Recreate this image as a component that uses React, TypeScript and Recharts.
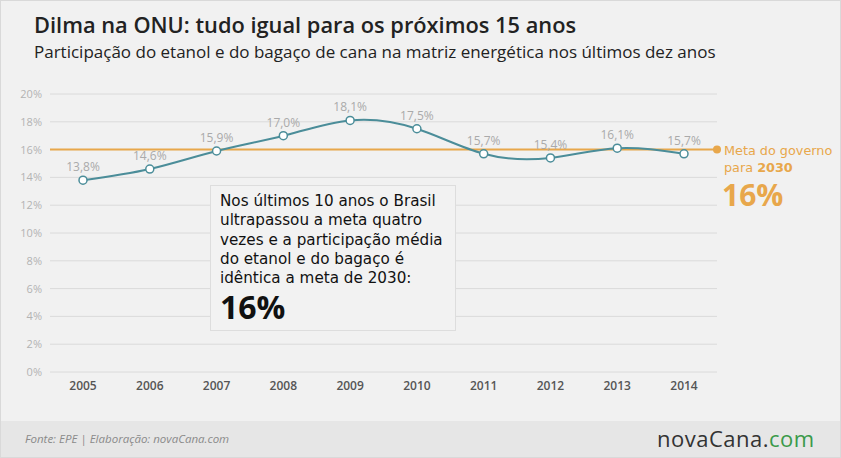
import {
  LineChart,
  Line,
  XAxis,
  YAxis,
  CartesianGrid,
  ReferenceLine,
  LabelList,
} from "recharts";

const years = ["2005", "2006", "2007", "2008", "2009", "2010", "2011", "2012", "2013", "2014"];
const share = [13.8, 14.6, 15.9, 17.0, 18.1, 17.5, 15.7, 15.4, 16.1, 15.7];
const yTicks = [0, 2, 4, 6, 8, 10, 12, 14, 16, 18, 20];
const meta2030 = 16;

const data = years.map((year, i) => ({ year, share: share[i] }));

const FONT = "'Open Sans', sans-serif";
const WIDE = "'DejaVu Sans', sans-serif";
const ORANGE = "#e8a74b";
const TEAL = "#4b8d99";

const pct = (v: number) => v.toFixed(1).replace(".", ",") + "%";

function MetaLabel(props: any) {
  const { viewBox } = props;
  const x = viewBox.x + viewBox.width;
  const y = viewBox.y;
  return (
    <g>
      <circle cx={x} cy={y} r={4} fill={ORANGE} />
      <text x={x + 7} y={y + 5} fill={ORANGE} fontSize={12.8} fontFamily={WIDE}>
        Meta do governo
      </text>
      <text x={x + 7} y={y + 22} fill={ORANGE} fontSize={12.8} fontFamily={WIDE}>
        para <tspan fontWeight={700}>2030</tspan>
      </text>
      <text x={x + 5} y={y + 56} fill={ORANGE} fontSize={30} fontWeight={700} fontFamily={FONT}>
        16%
      </text>
    </g>
  );
}

export default function App() {
  return (
    <div
      style={{
        position: "absolute",
        left: 0,
        top: 0,
        width: 841,
        height: 458,
        background: "#f1f1f1",
        boxSizing: "border-box",
        border: "1px solid #d9d9d9",
        fontFamily: FONT,
        overflow: "hidden",
      }}
    >
      <div style={{ position: "absolute", left: 33, top: 9, fontSize: 21.8, fontWeight: 600, color: "#222" }}>
        Dilma na ONU: tudo igual para os próximos 15 anos
      </div>
      <div style={{ position: "absolute", left: 33, top: 39, fontSize: 17, color: "#222" }}>
        Participação do etanol e do bagaço de cana na matriz energética nos últimos dez anos
      </div>

      <LineChart
        width={841}
        height={420}
        data={data}
        margin={{ top: 93, right: 124, left: 0, bottom: 0 }}
        style={{ position: "absolute", left: -1, top: 0 }}
      >
        <CartesianGrid vertical={false} stroke="#dadada" />
        <XAxis
          dataKey="year"
          axisLine={false}
          tickLine={false}
          height={49}
          tickMargin={3}
          padding={{ left: 33, right: 33 }}
          tick={{ fill: "#555", fontSize: 12, fontFamily: FONT, fontWeight: 600 }}
        />
        <YAxis
          domain={[0, 20]}
          ticks={yTicks}
          width={50}
          axisLine={false}
          tickLine={false}
          tickMargin={2}
          tickFormatter={(v: number) => v + "%"}
          tick={{ fill: "#b3b3b3", fontSize: 11, fontFamily: FONT }}
        />
        <ReferenceLine y={meta2030} stroke={ORANGE} strokeWidth={2} label={<MetaLabel />} />
        <Line
          type="natural"
          dataKey="share"
          stroke={TEAL}
          strokeWidth={2}
          dot={{ r: 4, fill: "#fff", stroke: TEAL, strokeWidth: 1.5 }}
          activeDot={false}
          isAnimationActive={false}
        >
          <LabelList
            dataKey="share"
            position="top"
            offset={9}
            formatter={(v: any) => pct(Number(v))}
            style={{ fill: "#aaa", fontSize: 12, fontFamily: FONT }}
          />
        </Line>
      </LineChart>

      <div
        style={{
          position: "absolute",
          left: 209,
          top: 184,
          width: 246,
          height: 146,
          boxSizing: "border-box",
          border: "1px solid #dddddd",
          background: "#f2f2f2",
          padding: "6px 9px",
          color: "#111",
          fontFamily: WIDE,
          fontSize: 15.2,
          lineHeight: "19.3px",
          whiteSpace: "nowrap",
        }}
      >
        Nos últimos 10 anos o Brasil
        <br />
        ultrapassou a meta quatro
        <br />
        vezes e a participação média
        <br />
        do etanol e do bagaço é
        <br />
        idêntica a meta de 2030:
        <div style={{ fontFamily: FONT, fontSize: 32, fontWeight: 700, lineHeight: "44px", marginTop: -3 }}>
          16%
        </div>
      </div>

      <div
        style={{
          position: "absolute",
          left: 0,
          top: 420,
          width: 841,
          height: 38,
          background: "#e6e6e6",
        }}
      />
      <div
        style={{
          position: "absolute",
          left: 24,
          top: 430,
          fontSize: 11.5,
          fontStyle: "italic",
          color: "#8a8a8a",
        }}
      >
        Fonte: EPE | Elaboração: novaCana.com
      </div>
      <div
        style={{
          position: "absolute",
          left: 656,
          top: 422,
          fontSize: 22,
          color: "#333",
          letterSpacing: 0.5,
        }}
      >
        novaCana.<span style={{ color: "#3a9a4a" }}>com</span>
      </div>
    </div>
  );
}
